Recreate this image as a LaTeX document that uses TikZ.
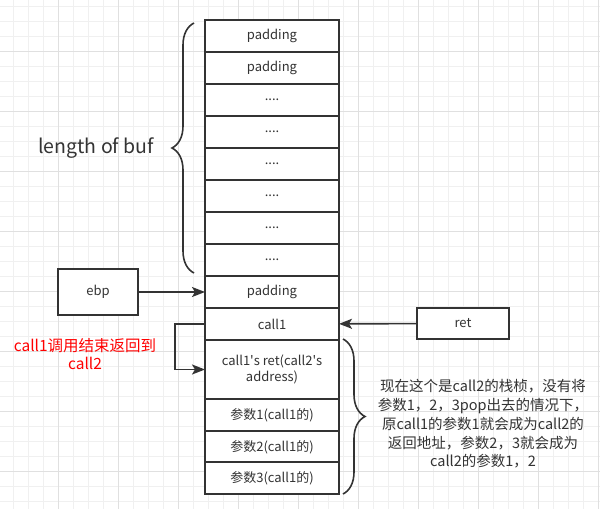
\documentclass[tikz,border=0pt]{standalone}
\usepackage{fontspec}
\setmainfont{Noto Sans CJK SC}
\usetikzlibrary{arrows.meta}
\usetikzlibrary{decorations.pathreplacing}
\definecolor{edgegray}{HTML}{333333}
\definecolor{textgray}{HTML}{333333}
\definecolor{gridminor}{HTML}{F0F0F0}
\definecolor{gridmajor}{HTML}{E0E0E0}
\tikzset{
  cell/.style={draw=edgegray, line width=1.6pt, fill=white, minimum width=134pt, minimum height=32pt,
    inner sep=0pt, outer sep=0pt, text=textgray, font=\fontsize{13}{16.7}\selectfont, align=center},
  box/.style={cell, minimum width=80pt, minimum height=46pt},
  flow/.style={draw=edgegray, line width=1.6pt, -{Stealth[length=13pt,width=10pt,inset=3pt]}},
  curly/.style={draw=edgegray, line width=1.6pt, decorate, decoration={brace, amplitude=22pt}},
}
\begin{document}
\begin{tikzpicture}[x=1pt, y=-1pt]
    \useasboundingbox (0,0) rectangle (600,509);
    \fill[white] (0,0) rectangle (600,509);
    % grid
    \foreach \gx in {13.3,28.3,...,598.3}{
        \draw[gridminor, line width=1pt] (\gx,0) -- (\gx,509);
    }
    \foreach \gy in {6,21,...,501}{
        \draw[gridminor, line width=1pt] (0,\gy) -- (600,\gy);
    }
    \foreach \gx in {58.3,118.3,...,598.3}{
        \draw[gridmajor, line width=1pt] (\gx,0) -- (\gx,509);
    }
    \foreach \gy in {51,111,...,471}{
        \draw[gridmajor, line width=1pt] (0,\gy) -- (600,\gy);
    }
    % stack
    \node[cell] (pad1) at (272,36) {padding};
    \node[cell] (pad2) at (272,68) {padding};
    \foreach \i in {1,...,6}{
        \node[cell] (dots\i) at (272,{68+32*\i}) {....};
    }
    \node[cell] (pad3) at (272,292) {padding};
    \node[cell] (call1) at (272,324) {call1};
    \node[cell, minimum height=59pt] (ret1) at (272,369.5) {call1\textquotesingle s ret(call2\textquotesingle s\\address)};
    \node[cell] (arg1) at (272,415) {参数1(call1的)};
    \node[cell] (arg2) at (272,447) {参数2(call1的)};
    \node[cell] (arg3) at (272,478) {参数3(call1的)};
    % pointers
    \node[box] (ebp) at (98,292) {ebp};
    \node[box, minimum width=92pt, minimum height=31pt] (retbox) at (463,323.5) {ret};
    \draw[flow] (ebp) -- (pad3);
    \draw[flow] (retbox) -- (call1);
    \draw[flow] (call1.west) -- ++(-30,0) |- (ret1.west);
    \node[align=center, text=red, font=\fontsize{15.5}{18.3}\selectfont] (backnote) at (85,354) {call1调用结束返回到\\call2};
    % braces
    \coordinate (bufbot) at (194,273);
    \coordinate (buftop) at (194,23);
    \draw[curly] (bufbot) -- (buftop);
    \node[text=textgray, font=\fontsize{19.5}{22}\selectfont] (buflen) at (96,148) {length of buf};
    \coordinate (frametop) at (343,339);
    \coordinate (framebot) at (343,494);
    \draw[curly] (frametop) -- (framebot);
    \node[align=center, text=textgray, font=\fontsize{14.5}{18.7}\selectfont] (note) at (483,424)
        {现在这个是call2的栈桢，没有将\\参数1，2，3pop出去的情况下，\\原call1的参数1就会成为call2的\\返回地址，参数2，3就会成为\\call2的参数1，2};
\end{tikzpicture}
\end{document}
